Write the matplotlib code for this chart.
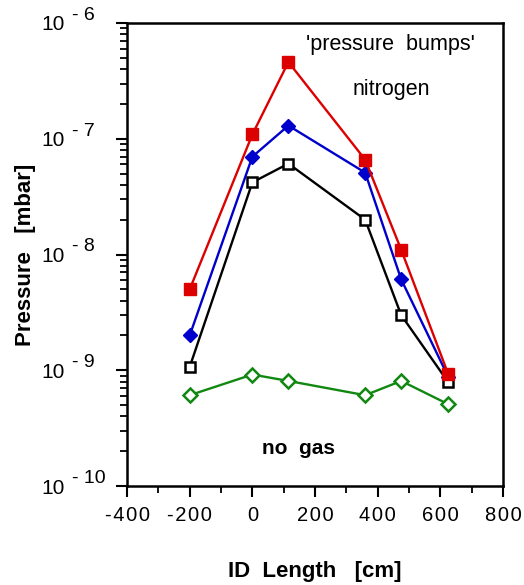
import numpy as np
import matplotlib
matplotlib.use("Agg")
from matplotlib import pyplot as plt
from matplotlib.ticker import MultipleLocator, LogLocator, FixedFormatter, FixedLocator, NullFormatter

plt.rcParams['font.family'] = ['Liberation Sans', 'DejaVu Sans']

# positions along the ID [cm]
id_pos = [-200, 0, 115, 360, 475, 625]

# pressures [mbar]
p_red = [5.0e-9, 1.09e-7, 4.6e-7, 6.6e-8, 1.1e-8, 9.3e-10]
p_blue = [2.0e-9, 7.0e-8, 1.3e-7, 5.1e-8, 6.1e-9, 8.8e-10]
p_black = [1.07e-9, 4.2e-8, 6.1e-8, 2.0e-8, 3.0e-9, 7.9e-10]
p_nogas = [6.1e-10, 9.2e-10, 8.1e-10, 6.1e-10, 8.1e-10, 5.1e-10]

x_ticks = [-400, -200, 0, 200, 400, 600, 800]
y_ticks = [1e-10, 1e-9, 1e-8, 1e-7, 1e-6]
y_exp = ['- 10', '- 9', '- 8', '- 7', '- 6']

fig = plt.figure(figsize=(5.24, 5.85), dpi=100)
ax = fig.add_axes((0.2424, 0.169, 0.7176, 0.7917))

ax.plot(id_pos, p_red, color='#dd0000', lw=1.7, marker='s', ms=8, mfc='#dd0000', mec='#dd0000', zorder=4)
ax.plot(id_pos, p_blue, color='#0000cc', lw=1.7, marker='D', ms=7.5, mfc='#0000cc', mec='#0000cc', zorder=3)
ax.plot(id_pos, p_black, color='black', lw=1.7, marker='s', ms=6.5, mfc='white', mec='black', mew=1.8, zorder=3)
ax.plot(id_pos, p_nogas, color='#118811', lw=1.7, marker='D', ms=7.5, mfc='white', mec='#118811', mew=1.8, zorder=3)

ax.set_yscale('log')
ax.set_xlim(-400, 800)
ax.set_ylim(1e-10, 1e-6)

# a little letter spacing, like the original tick labels
ax.xaxis.set_major_locator(FixedLocator(x_ticks))
ax.set_xticklabels(['\u200a'.join(str(v)) for v in x_ticks])
ax.xaxis.set_minor_locator(MultipleLocator(100))
ax.yaxis.set_major_locator(FixedLocator(y_ticks))
ax.yaxis.set_major_formatter(FixedFormatter(['10'] * len(y_ticks)))
ax.yaxis.set_minor_locator(LogLocator(base=10, subs=np.arange(2, 10)))
ax.yaxis.set_minor_formatter(NullFormatter())

ax.tick_params(which='major', direction='out', length=8, width=1.5, top=False, right=False)
ax.tick_params(which='minor', direction='out', length=5, width=1.3, top=False, right=False)
ax.tick_params(axis='x', pad=6, labelsize=14.5)
ax.tick_params(axis='y', pad=37, labelsize=15)
for s in ax.spines.values():
    s.set_linewidth(1.8)

# exponents of the y tick labels, raised like superscripts
for v, e in zip(y_ticks, y_exp):
    ax.annotate(e, xy=(-0.147, v), xycoords=ax.get_yaxis_transform(), xytext=(0, 5.5),
                textcoords='offset points', ha='left', va='center', fontsize=14, annotation_clip=False)

ax.set_xlabel('ID  Length   [cm]', fontsize=16, fontweight='bold', labelpad=26)
ax.set_ylabel('Pressure   [mbar]', fontsize=16, fontweight='bold', labelpad=4)

ax.text(0.70, 0.953, "'pressure  bumps'", transform=ax.transAxes, fontsize=15.5, ha='center', va='center')
ax.text(0.702, 0.857, 'nitrogen', transform=ax.transAxes, fontsize=15.5, ha='center', va='center')
ax.text(0.455, 0.082, 'no  gas', transform=ax.transAxes, fontsize=15, fontweight='bold', ha='center', va='center')

plt.savefig('out.png', dpi=100)
